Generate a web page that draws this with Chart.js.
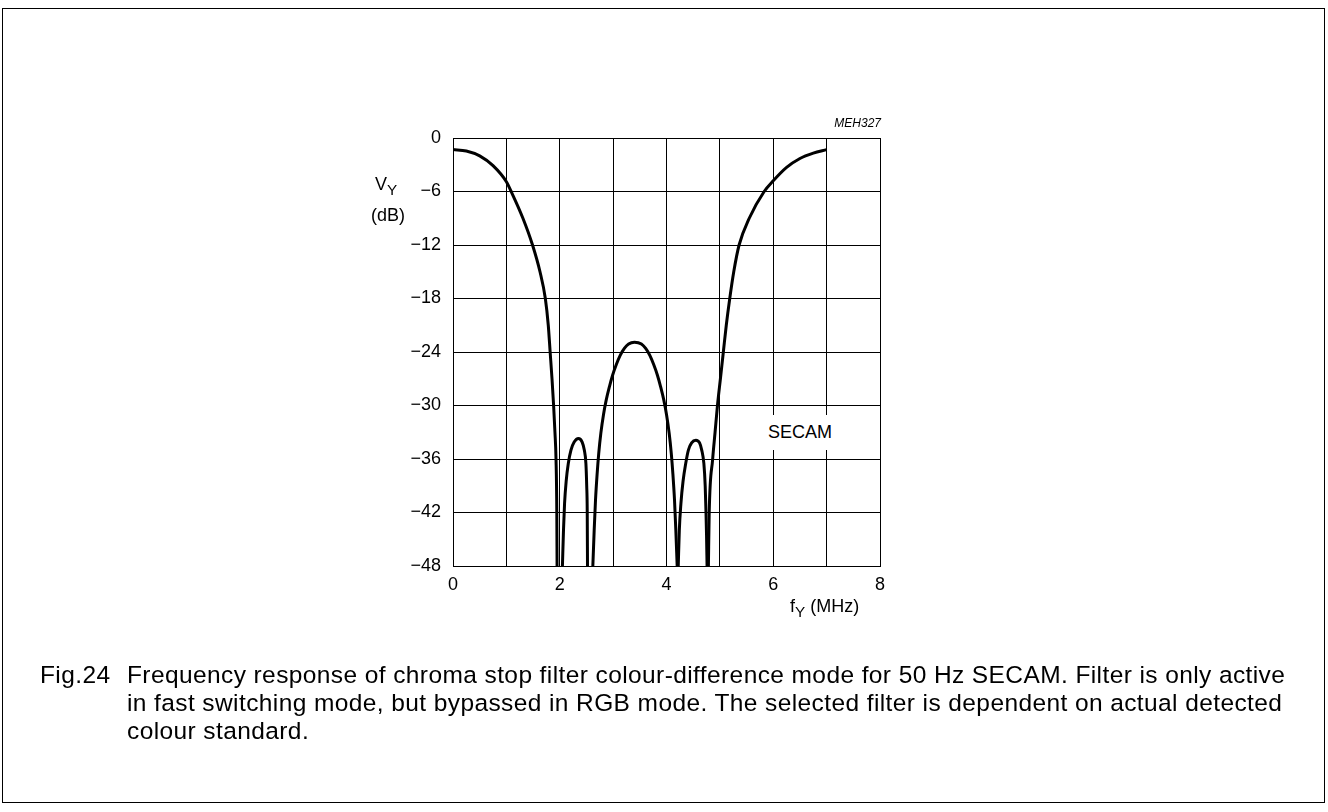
<!DOCTYPE html>
<html>
<head>
<meta charset="utf-8">
<script src="https://cdn.jsdelivr.net/npm/chart.js@4.4.1/dist/chart.umd.min.js"></script>
<style>
  html, body { margin: 0; padding: 0; background: #fff; }
  body { width: 1328px; height: 812px; position: relative; overflow: hidden;
         font-family: "Liberation Sans", Arial, sans-serif; color: #000; }
  .frame { position: absolute; left: 2px; top: 8px; width: 1321px; height: 793px; border: 1px solid #000; }
  #wrap { position: absolute; left: 0; top: 0; width: 1328px; height: 812px; }
  .lbl { position: absolute; white-space: nowrap; font-size: 18px; }
  .code { position: absolute; font-size: 12px; font-style: italic; right: 447px; top: 116px; }
  .secam { position: absolute; left: 757px; top: 415px; width: 86px; height: 35px; background: #fff;
           font-size: 18px; line-height: 35px; text-align: center; }
  .caption { position: absolute; left: 40px; top: 661px; font-size: 24.5px; line-height: 28px; letter-spacing: 0.4px; }
  .caption .num { position: absolute; left: 0; top: 0; }
  .caption .txt { position: absolute; left: 87px; top: 0; white-space: nowrap; }
  sub { font-size: 0.85em; vertical-align: -0.35em; line-height: 0; }
</style>
</head>
<body>
<div class="frame"></div>
<div id="wrap"><canvas id="chart" width="1328" height="812"></canvas></div>
<div class="code">MEH327</div>
<div class="lbl" style="left:375px; top:174px;">V<sub>Y</sub></div>
<div class="lbl" style="left:371px; top:205px;">(dB)</div>
<div class="lbl" style="left:790px; top:596px;">f<sub>Y</sub> (MHz)</div>
<div class="secam">SECAM</div>
<div class="caption">
  <span class="num">Fig.24</span>
  <span class="txt">Frequency response of chroma stop filter colour-difference mode for 50 Hz SECAM. Filter is only active<br>in fast switching mode, but bypassed in RGB mode. The selected filter is dependent on actual detected<br>colour standard.</span>
</div>
<script>
// frequency (MHz) and level (dB), one pair of arrays per trace segment
const leftSkirtF  = [0, 0.25, 0.5, 0.75, 1.0, 1.09, 1.31, 1.49, 1.63, 1.73, 1.785, 1.82, 1.855, 1.885, 1.91, 1.93, 1.945, 1.95];
const leftSkirtDb = [-1.3, -1.45, -2.0, -3.1, -4.9, -6, -9, -12, -15, -18, -21, -24, -27, -30, -33, -36, -42, -48];

const lobe1F  = [2.05, 2.07, 2.09, 2.12, 2.16, 2.21, 2.27, 2.35, 2.42, 2.46, 2.49, 2.505, 2.515, 2.52];
const lobe1Db = [-48, -44, -41, -38.5, -36.5, -35, -34.1, -33.7, -34.1, -35, -36.5, -39, -42, -48];

const centerF  = [2.62, 2.645, 2.67, 2.70, 2.73, 2.77, 2.82, 2.87, 2.93, 2.99, 3.06, 3.13, 3.21, 3.29, 3.40,
                  3.53, 3.61, 3.69, 3.76, 3.83, 3.89, 3.95, 4.00, 4.05, 4.09, 4.12, 4.15, 4.175, 4.20];
const centerDb = [-48, -44, -40.6, -37.7, -35.4, -33.1, -31, -29.4, -27.9, -26.6, -25.4, -24.4, -23.6, -23.1, -22.9,
                  -23.1, -23.6, -24.4, -25.4, -26.6, -27.9, -29.4, -31, -33.1, -35.4, -37.7, -40.6, -44, -48];

const lobe2F  = [4.22, 4.24, 4.27, 4.31, 4.36, 4.41, 4.47, 4.55, 4.62, 4.66, 4.70, 4.725, 4.74, 4.75, 4.76];
const lobe2Db = [-48, -44, -41, -38.5, -36.5, -35, -34.2, -33.9, -34.2, -35, -36.5, -39, -42, -44.5, -48];

const rightSkirtF  = [4.785, 4.80, 4.865, 4.91, 4.955, 5.01, 5.065, 5.12, 5.185, 5.26, 5.36, 5.55, 5.83, 6.0, 6.25, 6.5, 6.75, 7.0];
const rightSkirtDb = [-48, -42, -36, -33, -30, -27, -24, -21, -18, -15, -12, -9, -6, -4.8, -3.3, -2.3, -1.7, -1.3];

const xTicks = [0, 2, 4, 6, 8];
const yTicks = [0, -6, -12, -18, -24, -30, -36, -42, -48];

const segments = [
    [leftSkirtF, leftSkirtDb],
    [lobe1F, lobe1Db],
    [centerF, centerDb],
    [lobe2F, lobe2Db],
    [rightSkirtF, rightSkirtDb],
];

function toPoints(fs, dbs) {
    return fs.map((f, i) => ({ x: f, y: dbs[i] }));
}

const datasets = segments.map(([fs, dbs]) => ({
    data: toPoints(fs, dbs),
    showLine: true,
    borderColor: '#000',
    borderWidth: 3,
    pointRadius: 0,
    cubicInterpolationMode: 'monotone',
    fill: false,
}));

const tickFont = { family: '"Liberation Sans", Arial, sans-serif', size: 18 };

new Chart(document.getElementById('chart'), {
    type: 'scatter',
    data: { datasets: datasets },
    options: {
        responsive: false,
        animation: false,
        events: [],
        layout: { padding: { left: 393, top: 138, right: 448, bottom: 206 } },
        plugins: { legend: { display: false }, tooltip: { enabled: false } },
        scales: {
            x: {
                type: 'linear',
                min: 0,
                max: 8,
                afterFit: (s) => { s.height = 40; },
                grid: { color: '#000', lineWidth: 1, drawTicks: false },
                border: { color: '#000', width: 1 },
                ticks: {
                    stepSize: 1,
                    padding: 8,
                    color: '#000',
                    font: tickFont,
                    maxRotation: 0,
                    callback: (v) => xTicks.includes(v) ? String(v) : '',
                },
            },
            y: {
                min: -48,
                max: 0,
                afterFit: (s) => { s.width = 60; },
                grid: { color: '#000', lineWidth: 1, drawTicks: false },
                border: { color: '#000', width: 1 },
                ticks: {
                    stepSize: 6,
                    padding: 12,
                    color: '#000',
                    font: tickFont,
                    callback: (v) => yTicks.includes(v) ? String(v).replace('-', '\u2212') : '',
                },
            },
        },
    },
});
</script>
</body>
</html>
